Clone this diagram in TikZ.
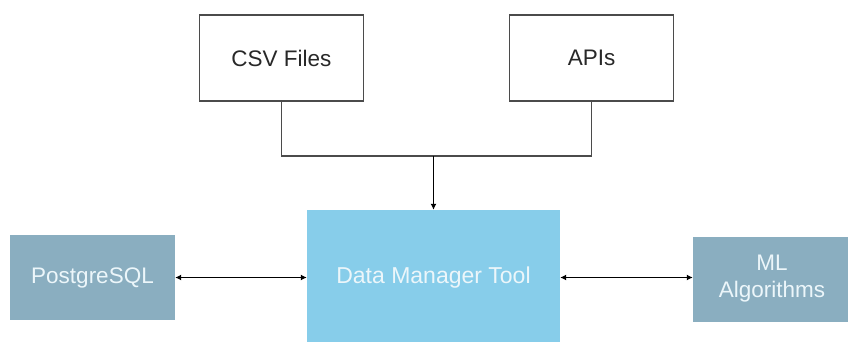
\documentclass[tikz,border=0pt]{standalone}
\usepackage{fontspec}
\setmainfont{Liberation Sans}
\usetikzlibrary{arrows.meta}
\definecolor{skyb}{RGB}{135,205,234}
\definecolor{steelb}{RGB}{138,174,192}
\definecolor{boxline}{RGB}{75,75,75}
\definecolor{txtdark}{RGB}{40,40,40}
\definecolor{txtlight}{RGB}{236,246,250}
\begin{document}
\begin{tikzpicture}[x=1pt,y=-1pt,
  srcbox/.style={draw=boxline,line width=1.4pt,fill=white,inner sep=0pt,
    minimum width=164pt,minimum height=86pt,text=txtdark,font=\fontsize{22.5}{26}\selectfont},
  sidebox/.style={fill=steelb,inner sep=0pt,minimum height=85pt,
    text=txtlight,align=center,font=\fontsize{22.5}{27}\selectfont},
  mainbox/.style={fill=skyb,inner sep=0pt,minimum width=253pt,minimum height=136pt,
    text=txtlight,font=\fontsize{23}{26}\selectfont},
  feed/.style={draw=boxline,line width=1.4pt},
  biarrow/.style={draw=black,line width=1.4pt,{Latex[length=6pt,width=6pt]}-{Latex[length=6pt,width=6pt]}},
  downarrow/.style={draw=black,line width=1.4pt,-{Latex[length=6pt,width=6pt]}}
]
\useasboundingbox (0,0) rectangle (848,341);
\fill[white] (0,0) rectangle (848,341);
\node[srcbox] (csv) at (281.5,58) {CSV Files};
\node[srcbox] (api) at (591.5,58) {APIs};
\node[mainbox] (dmt) at (433.5,278) {Data Manager Tool};
\node[sidebox,minimum width=165pt] (pg) at (92.5,277.5) {PostgreSQL};
\node[sidebox,minimum width=158pt] (ml) at (772,279) {ML\\Algorithms};
\coordinate (j) at (dmt.north |- 0,156);
\draw[feed] (csv.south) |- (j) -| (api.south);
\draw[downarrow] (j) -- (dmt.north);
\draw[biarrow] (pg.east) -- (dmt.west |- pg.east);
\draw[biarrow] (dmt.east |- pg.east) -- (ml.west |- pg.east);
\end{tikzpicture}
\end{document}
